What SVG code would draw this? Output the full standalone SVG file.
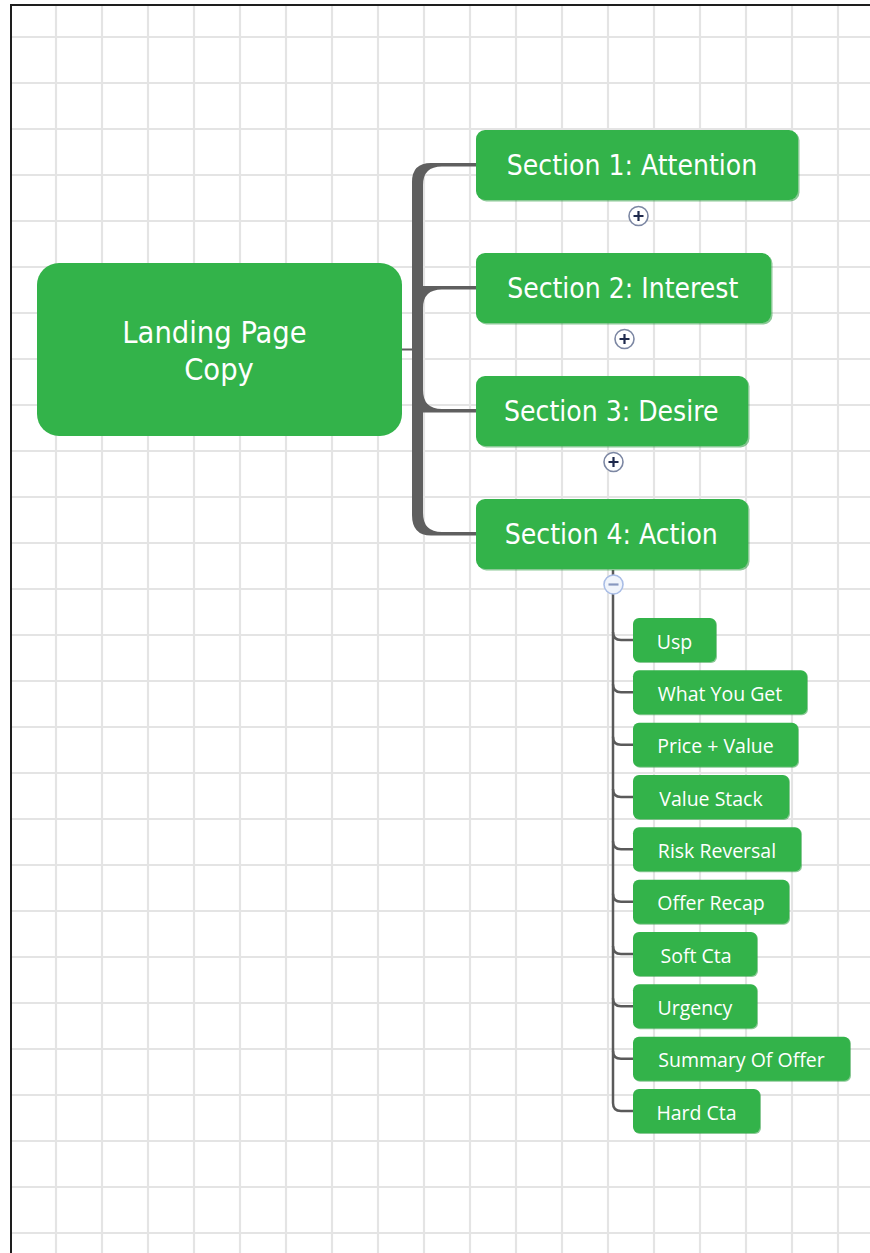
<svg xmlns="http://www.w3.org/2000/svg" width="870" height="1253" viewBox="0 0 870 1253">
<style>
.grid{stroke:#e4e4e4;stroke-width:2.2;fill:none}
.node{fill:#33b34a}
.shadow{fill:#2b9c40;opacity:0.55}
.main{font-family:"DejaVu Sans Condensed","DejaVu Sans",sans-serif;font-stretch:condensed;fill:#ffffff;text-anchor:middle}
.sec{font-family:"DejaVu Sans Condensed","DejaVu Sans",sans-serif;font-stretch:condensed;font-size:28px;fill:#ffffff;text-anchor:middle}
.child{font-family:"Open Sans",sans-serif;font-size:19.5px;fill:#ffffff;text-anchor:middle}
.spine{fill:#5f5f5f}
.sub{stroke:#5a5a5a;stroke-width:2.5;fill:none}
.plusc{fill:#ffffff;stroke:#7c87a3;stroke-width:1.6}
.plusm{stroke:#1f2a4d;stroke-width:2.2;fill:none}
.minc{fill:#f0f4fb;stroke:#a9bde6;stroke-width:1.6}
.minm{stroke:#8797bf;stroke-width:2.2;fill:none}
</style>
<rect x="0" y="0" width="870" height="1253" fill="#ffffff"/>
<g id="grid">
<path class="grid" d="M56 6V1253M102 6V1253M148 6V1253M194 6V1253M240 6V1253M286 6V1253M332 6V1253M378 6V1253M424 6V1253M470 6V1253M516 6V1253M562 6V1253M608 6V1253M654 6V1253M700 6V1253M746 6V1253M792 6V1253M838 6V1253"/>
<path class="grid" d="M11 37H870M11 83H870M11 129H870M11 175H870M11 221H870M11 267H870M11 313H870M11 359H870M11 405H870M11 451H870M11 497H870M11 543H870M11 589H870M11 635H870M11 681H870M11 727H870M11 773H870M11 819H870M11 865H870M11 911H870M11 957H870M11 1003H870M11 1049H870M11 1095H870M11 1141H870M11 1187H870M11 1233H870"/>
</g>
<g id="frame">
<line x1="10" y1="5" x2="870" y2="5" stroke="#1e1e1e" stroke-width="2"/>
<line x1="11" y1="4" x2="11" y2="1253" stroke="#1e1e1e" stroke-width="2"/>
</g>
<g id="connectors">
<line x1="401" y1="349.5" x2="413" y2="349.5" stroke="#5f5f5f" stroke-width="2"/>
<path class="spine" d="M412 350 L412 182 Q412 163 431 163 L476 163 L476 166.5 L442 166.5 Q423 166.5 423 185 L423 350 Z"/>
<path class="spine" d="M412 350 L412 286 L476 286 L476 289.5 L442 289.5 Q423 289.5 423 308 L423 350 Z"/>
<path class="spine" d="M412 350 L412 412.5 L476 412.5 L476 409 L442 409 Q423 409 423 390 L423 350 Z"/>
<path class="spine" d="M412 350 L412 515 Q412 535.5 431 535.5 L476 535.5 L476 532 L442 532 Q423 532 423 513 L423 350 Z"/>
<path class="sub" d="M613 570 L613 1103"/>
<path class="sub" d="M613 632 Q613 640 621 640 L634 640"/>
<path class="sub" d="M613 684.3 Q613 692.3 621 692.3 L634 692.3"/>
<path class="sub" d="M613 736.7 Q613 744.7 621 744.7 L634 744.7"/>
<path class="sub" d="M613 789 Q613 797 621 797 L634 797"/>
<path class="sub" d="M613 841.3 Q613 849.3 621 849.3 L634 849.3"/>
<path class="sub" d="M613 893.7 Q613 901.7 621 901.7 L634 901.7"/>
<path class="sub" d="M613 946 Q613 954 621 954 L634 954"/>
<path class="sub" d="M613 998.3 Q613 1006.3 621 1006.3 L634 1006.3"/>
<path class="sub" d="M613 1050.7 Q613 1058.7 621 1058.7 L634 1058.7"/>
<path class="sub" d="M613 1103 Q613 1111 621 1111 L634 1111"/>
</g>
<g id="root">
<rect x="37" y="263" width="365" height="173" rx="22" class="node"/>
<text class="main" font-size="30.5" x="214.5" y="343">Landing Page</text>
<text class="main" font-size="30.5" x="219" y="380">Copy</text>
</g>
<g id="section1">
<rect x="477.5" y="131.5" width="322" height="70" rx="9" class="shadow"/>
<rect x="476" y="130" width="322" height="70" rx="9" class="node"/>
<text class="sec" x="632" y="175">Section 1: Attention</text>
<circle cx="638.5" cy="216" r="9.5" class="plusc"/>
<path class="plusm" d="M633.5 216H643.5M638.5 211V221"/>
</g>
<g id="section2">
<rect x="477.5" y="254.5" width="295" height="70" rx="9" class="shadow"/>
<rect x="476" y="253" width="295" height="70" rx="9" class="node"/>
<text class="sec" x="622.7" y="297.5">Section 2: Interest</text>
<circle cx="624.5" cy="339" r="9.5" class="plusc"/>
<path class="plusm" d="M619.5 339H629.5M624.5 334V344"/>
</g>
<g id="section3">
<rect x="477.5" y="377.5" width="272" height="70" rx="9" class="shadow"/>
<rect x="476" y="376" width="272" height="70" rx="9" class="node"/>
<text class="sec" x="611.3" y="421">Section 3: Desire</text>
<circle cx="613.5" cy="462" r="9.5" class="plusc"/>
<path class="plusm" d="M608.5 462H618.5M613.5 457V467"/>
</g>
<g id="section4">
<rect x="477.5" y="500.5" width="272" height="70" rx="9" class="shadow"/>
<rect x="476" y="499" width="272" height="70" rx="9" class="node"/>
<text class="sec" x="611.3" y="543.5">Section 4: Action</text>
<circle cx="613.5" cy="584.5" r="9.5" class="minc"/>
<path class="minm" d="M608.5 584.5H618.5"/>
</g>
<g id="child-usp">
<rect x="634" y="619" width="83" height="44" rx="6" class="shadow"/>
<rect x="633" y="618" width="83" height="44" rx="6" class="node"/>
<text class="child" x="674.5" y="648.5">Usp</text>
</g>
<g id="child-what-you-get">
<rect x="634" y="671.3" width="174" height="44" rx="6" class="shadow"/>
<rect x="633" y="670.3" width="174" height="44" rx="6" class="node"/>
<text class="child" x="720" y="700.8">What You Get</text>
</g>
<g id="child-price-value">
<rect x="634" y="723.7" width="165" height="44" rx="6" class="shadow"/>
<rect x="633" y="722.7" width="165" height="44" rx="6" class="node"/>
<text class="child" x="715.5" y="753.2">Price + Value</text>
</g>
<g id="child-value-stack">
<rect x="634" y="776" width="156" height="44" rx="6" class="shadow"/>
<rect x="633" y="775" width="156" height="44" rx="6" class="node"/>
<text class="child" x="711" y="805.5">Value Stack</text>
</g>
<g id="child-risk-reversal">
<rect x="634" y="828.3" width="168" height="44" rx="6" class="shadow"/>
<rect x="633" y="827.3" width="168" height="44" rx="6" class="node"/>
<text class="child" x="717" y="857.8">Risk Reversal</text>
</g>
<g id="child-offer-recap">
<rect x="634" y="880.7" width="156" height="44" rx="6" class="shadow"/>
<rect x="633" y="879.7" width="156" height="44" rx="6" class="node"/>
<text class="child" x="711" y="910.2">Offer Recap</text>
</g>
<g id="child-soft-cta">
<rect x="634" y="933" width="124" height="44" rx="6" class="shadow"/>
<rect x="633" y="932" width="124" height="44" rx="6" class="node"/>
<text class="child" x="696" y="962.5">Soft Cta</text>
</g>
<g id="child-urgency">
<rect x="634" y="985.3" width="124" height="44" rx="6" class="shadow"/>
<rect x="633" y="984.3" width="124" height="44" rx="6" class="node"/>
<text class="child" x="695" y="1014.8">Urgency</text>
</g>
<g id="child-summary-of-offer">
<rect x="634" y="1037.7" width="217" height="44" rx="6" class="shadow"/>
<rect x="633" y="1036.7" width="217" height="44" rx="6" class="node"/>
<text class="child" x="741.5" y="1067.2">Summary Of Offer</text>
</g>
<g id="child-hard-cta">
<rect x="634" y="1090" width="127" height="44" rx="6" class="shadow"/>
<rect x="633" y="1089" width="127" height="44" rx="6" class="node"/>
<text class="child" x="696.5" y="1119.5">Hard Cta</text>
</g>
</svg>
